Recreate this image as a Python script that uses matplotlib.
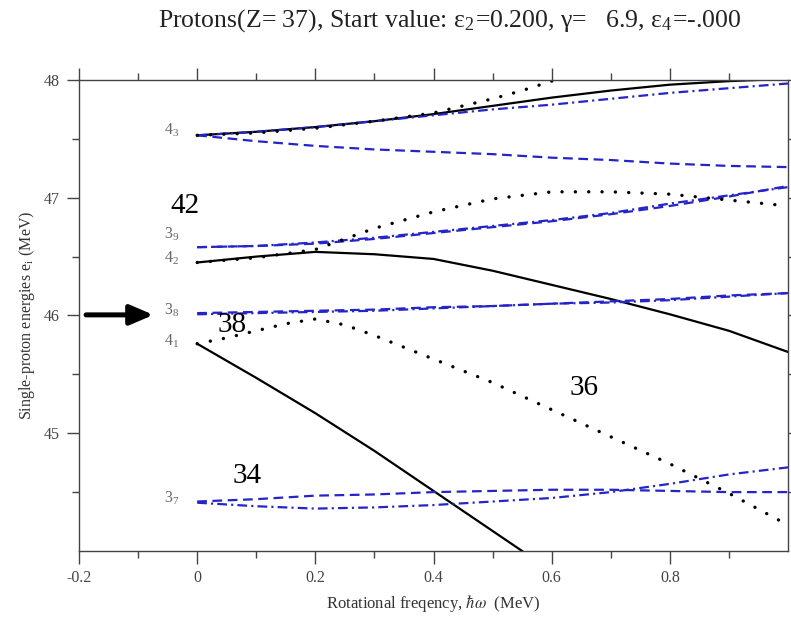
import matplotlib
matplotlib.use("Agg")
import matplotlib.pyplot as plt

plt.rcParams['font.family'] = ['Liberation Serif', 'DejaVu Serif']
plt.rcParams['mathtext.fontset'] = 'stix'
plt.rcParams['axes.unicode_minus'] = False
plt.rcParams['lines.scale_dashes'] = False

# rotational frequency grid (MeV)
omega = [0.0, 0.1, 0.2, 0.3, 0.4, 0.5, 0.6, 0.7, 0.8, 0.9, 1.0]

# 4_3 group
e43_solid = [47.53, 47.56, 47.60, 47.65, 47.71, 47.78, 47.85, 47.91, 47.96, 47.99, 48.01]
e43_dashdot = [47.53, 47.56, 47.60, 47.65, 47.70, 47.75, 47.79, 47.84, 47.89, 47.93, 47.97]
e43_dash = [47.53, 47.48, 47.44, 47.41, 47.39, 47.37, 47.34, 47.32, 47.29, 47.27, 47.26]
omega_43dot = [0.0, 0.1, 0.2, 0.3, 0.4, 0.5, 0.55, 0.6, 0.65]
e43_dot = [47.53, 47.55, 47.59, 47.65, 47.72, 47.84, 47.91, 47.99, 48.07]

# 3_9 group
e39_dash = [46.58, 46.59, 46.61, 46.65, 46.70, 46.75, 46.80, 46.86, 46.93, 47.01, 47.10]
e39_dashdot = [46.58, 46.59, 46.62, 46.66, 46.71, 46.76, 46.81, 46.87, 46.95, 47.02, 47.09]

# 4_2 group
e42_solid = [46.45, 46.50, 46.54, 46.52, 46.48, 46.38, 46.26, 46.14, 46.01, 45.87, 45.69]
e42_dot = [46.45, 46.49, 46.56, 46.74, 46.88, 46.99, 47.05, 47.05, 47.03, 46.98, 46.93]

# 3_8 group
e38_dash = [46.02, 46.03, 46.04, 46.05, 46.07, 46.08, 46.10, 46.12, 46.14, 46.17, 46.19]
e38_dashdot = [46.01, 46.02, 46.03, 46.04, 46.06, 46.08, 46.10, 46.11, 46.13, 46.16, 46.19]

# 4_1 group
omega_41 = [0.0, 0.1, 0.2, 0.3, 0.4, 0.5, 0.55]
e41_solid = [45.76, 45.47, 45.17, 44.85, 44.51, 44.17, 44.00]
omega_41dot = [0.0, 0.05, 0.1, 0.15, 0.2, 0.25, 0.3, 0.4, 0.5, 0.6, 0.7, 0.8, 0.9, 1.0]
e41_dot = [45.76, 45.81, 45.87, 45.93, 45.97, 45.92, 45.83, 45.63, 45.43, 45.20, 44.97, 44.74, 44.49, 44.22]

# 3_7 group
e37_dash = [44.42, 44.44, 44.47, 44.48, 44.50, 44.51, 44.52, 44.52, 44.51, 44.50, 44.50]
e37_dashdot = [44.41, 44.38, 44.36, 44.37, 44.39, 44.42, 44.45, 44.50, 44.57, 44.65, 44.71]

# level labels: (main, subscript, baseline energy)
level_labels = [("4", "3", 47.535), ("3", "9", 46.65), ("4", "2", 46.45),
                ("3", "8", 46.01), ("4", "1", 45.74), ("3", "7", 44.41)]
# particle numbers
numbers = ["42", "38", "36", "34"]
number_pos = [(-0.02, 46.93), (0.059, 45.92), (0.654, 45.38), (0.085, 44.64)]

xticks = [-0.2, 0.0, 0.2, 0.4, 0.6, 0.8]
xtick_labels = ["-0.2", "0", "0.2", "0.4", "0.6", "0.8"]
yticks = [45, 46, 47, 48]

BLUE = '#2424c8'
dash = (0, (7, 4))
dashdot = (0, (7, 3, 1.5, 3))
dot = (0, (0.1, 9.5))

fig = plt.figure(figsize=(7.91, 6.17), dpi=100)
ax = fig.add_axes([0.0999, 0.107, 0.8963, 0.7634])

solid_kw = dict(color='black', lw=1.6)
dash_kw = dict(color=BLUE, lw=1.6, linestyle=dash)
dd_kw = dict(color=BLUE, lw=1.6, linestyle=dashdot)
dot_kw = dict(color='black', lw=2.4, linestyle=dot, dash_capstyle='round')

ax.plot(omega, e43_solid, **solid_kw)
ax.plot(omega, e43_dashdot, **dd_kw)
ax.plot(omega, e43_dash, **dash_kw)
ax.plot(omega_43dot, e43_dot, **dot_kw)

ax.plot(omega, e39_dash, **dash_kw)
ax.plot(omega, e39_dashdot, **dd_kw)

ax.plot(omega, e42_solid, **solid_kw)
ax.plot(omega, e42_dot, **dot_kw)

ax.plot(omega, e38_dash, **dash_kw)
ax.plot(omega, e38_dashdot, **dd_kw)

ax.plot(omega_41, e41_solid, **solid_kw)
ax.plot(omega_41dot, e41_dot, **dot_kw)

ax.plot(omega, e37_dash, **dash_kw)
ax.plot(omega, e37_dashdot, **dd_kw)

for main, sub, y in level_labels:
    ax.text(-0.03, y, r'$\mathregular{%s_{%s}}$' % (main, sub), ha='right', va='baseline',
            fontsize=11.5, color='#666666')

for txt, (x, y) in zip(numbers, number_pos):
    ax.text(x, y, txt, ha='center', va='center', fontsize=21, color='black')

# arrow marking the Fermi level
ax.annotate('', xy=(-0.074, 46.005), xytext=(-0.188, 46.005),
            arrowprops=dict(arrowstyle='-|>,head_length=1.4,head_width=0.6',
                            lw=3.6, color='black', shrinkA=0, shrinkB=0))

ax.set_xlim(-0.2, 1.0)
ax.set_ylim(44.0, 48.0)
ax.set_xticks(xticks)
ax.set_xticklabels(xtick_labels)
ax.set_xticks([-0.1, 0.1, 0.3, 0.5, 0.7, 0.9], minor=True)
ax.set_yticks(yticks)
ax.set_yticks([44.5, 45.5, 46.5, 47.5], minor=True)
ax.tick_params(which='both', direction='out', top=True, right=True,
               colors='#444444', labelcolor='#444444', labelsize=11.5, width=1.0)
ax.tick_params(which='major', length=9, pad=5)
ax.tick_params(which='minor', length=5)
for s in ax.spines.values():
    s.set_color('#444444')
    s.set_linewidth(1.0)

ax.set_xlabel(r'Rotational freqency, $\hbar\omega$  (MeV)', fontsize=12, color='#333333', labelpad=5)
ax.set_ylabel(r'Single-proton energies e$_\mathregular{i}$ (MeV)', fontsize=11.5, color='#333333', labelpad=5)

fig.text(0.569, 0.966,
         'Protons(Z= 37), Start value: ε$_\\mathregular{2}$=0.200, γ=   6.9, ε$_\\mathregular{4}$=-.000',
         ha='center', va='center', fontsize=18.5, color='#222222')

fig.savefig('out.png', dpi=100)
